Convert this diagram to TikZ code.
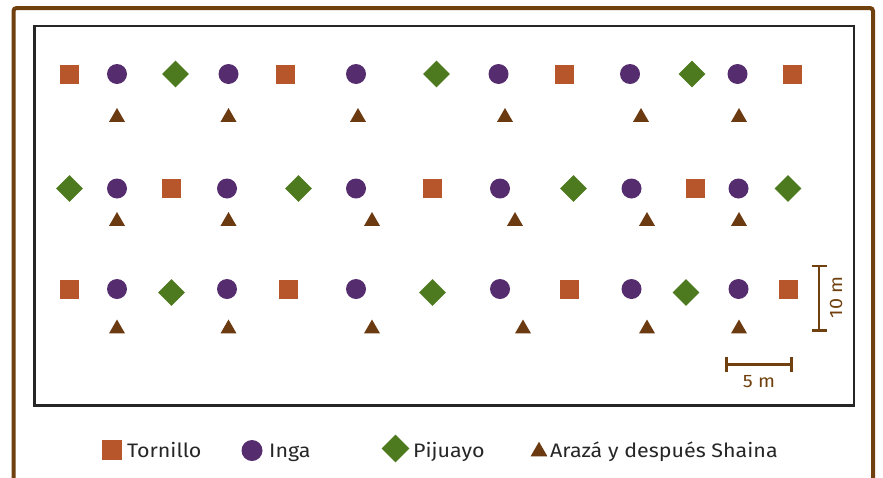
\documentclass[tikz,border=0pt]{standalone}
\usepackage{fontspec}
\setmainfont{Fira Sans}[FakeStretch=1.1]
\usetikzlibrary{shapes.geometric,arrows.meta}
\definecolor{frame}{HTML}{70400F}
\definecolor{tor}{HTML}{B8562B}
\definecolor{ing}{HTML}{552D6E}
\definecolor{pij}{HTML}{4E7A1F}
\definecolor{ara}{HTML}{6B3A10}
\tikzset{
  sq/.style={rectangle,fill=tor,inner sep=0,minimum size=19pt},
  ci/.style={circle,fill=ing,inner sep=0,minimum size=20pt},
  di/.style={diamond,fill=pij,inner sep=0,minimum size=27pt},
  tr/.style={regular polygon,regular polygon sides=3,fill=ara,inner sep=0,minimum size=18.5pt},
  lbl/.style={font=\fontsize{19.5}{22}\selectfont,text=black!85,anchor=base west,inner sep=0},
  scl/.style={font=\fontsize{18}{20}\selectfont,text=frame,inner sep=0},
  bar/.style={draw=frame,line width=2.6pt,{Bar[width=15pt,line width=2.6pt]}-{Bar[width=15pt,line width=2.6pt]}}
}
\begin{document}
\begin{tikzpicture}[x=1pt,y=-1pt]
\useasboundingbox (0,0) rectangle (883,477);
\fill[white] (0,0) rectangle (883,477);
\draw[frame,line width=4pt,rounded corners=3pt] (13.5,480) -- (13.5,8) -- (873,8) -- (873,480);
\draw[black!85,line width=2.2pt] (34.5,26) rectangle (854,405.5);
% row 1
\foreach \s/\x [count=\i] in {sq/69,ci/117,di/175.5,ci/228.5,sq/285.5,ci/356,di/436.5,ci/498.5,sq/564,ci/630,di/692,ci/737.5,sq/792}
  \node[\s] (a\i) at (\x,74) {};
\foreach \x [count=\i] in {117,228.5,358,505,641,739}
  \node[tr] (ta\i) at (\x,117.3) {};
% row 2
\foreach \s/\x [count=\i] in {di/69.5,ci/117,sq/171,ci/227,di/298.5,ci/356,sq/432.5,ci/500,di/573.5,ci/631.5,sq/695,ci/738.5,di/788}
  \node[\s] (b\i) at (\x,188.5) {};
\foreach \x [count=\i] in {117,228.5,372,515,647,739}
  \node[tr] (tb\i) at (\x,221.3) {};
% row 3
\foreach \s/\x/\y [count=\i] in {sq/69.3/289,ci/117/289,di/171.5/292.5,ci/227/289,sq/288/289,ci/356/289,di/432.5/292.5,ci/500/289,sq/569/289,ci/631.5/289,di/686/292.5,ci/738.5/289,sq/788/289}
  \node[\s] (c\i) at (\x,\y) {};
\foreach \x [count=\i] in {117,228.5,372,523,647,739}
  \node[tr] (tc\i) at (\x,328.8) {};
% scale bars
\coordinate (v1) at (819,264.5);
\coordinate (v2) at (819,331.5);
\draw[bar] (v1) -- (v2);
\node[scl,rotate=90] (vl) at (836,297.5) {10 m};
\coordinate (h1) at (725,364.7);
\coordinate (h2) at (792.5,364.7);
\draw[bar] (h1) -- (h2);
\node[scl] (hl) at (759,382) {5 m};
% legend
\node[sq,minimum size=20pt] (ls) at (112,450) {};
\node[lbl] (lst) at (127,457) {Tornillo};
\node[ci,minimum size=21pt] (lc) at (252,450.5) {};
\node[lbl] (lct) at (269,457) {Inga};
\node[di,minimum size=28pt] (ld) at (395.5,448.5) {};
\node[lbl] (ldt) at (413,457) {Pijuayo};
\node[tr,minimum size=19.5pt] (lt) at (539,451.5) {};
\node[lbl] (ltt) at (550,457) {Arazá y después Shaina};
\end{tikzpicture}
\end{document}
